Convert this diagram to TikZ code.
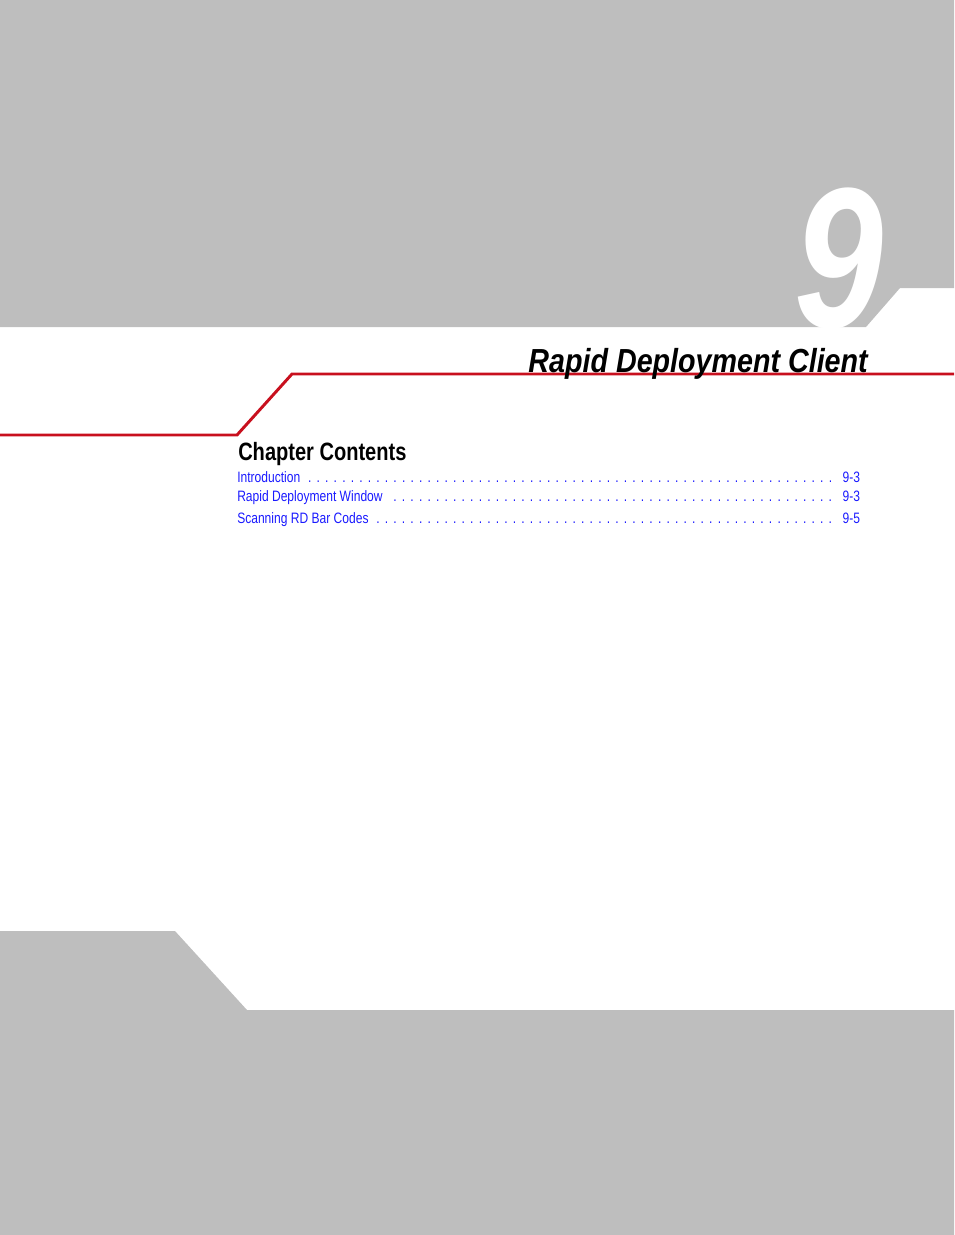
\documentclass[tikz,border=0pt]{standalone}
\usepackage{fontspec}
\setmainfont{Liberation Sans}
\newfontfamily\nf[FakeStretch=0.8]{Liberation Sans}
\newfontfamily\tf[FakeStretch=0.86]{Liberation Sans}
\definecolor{pg}{HTML}{BEBEBE}
\definecolor{rl}{HTML}{C8101E}
\definecolor{tb}{HTML}{1A1AFF}
\newcommand{\tocdots}{\leaders\hbox to 6.4pt{\hss.\hss}\hfill}
\tikzset{tocline/.style={anchor=base west,inner sep=0pt,text=tb,font=\nf\fontsize{11.3pt}{13pt}\selectfont}}
\begin{document}
\begin{tikzpicture}[x=0.75pt,y=-0.75pt]
\useasboundingbox (0,0) rectangle (954,1235);
\fill[pg] (0,0)--(954,0)--(954,288)--(900,288)--(866,327)--(0,327)--cycle;
\fill[pg] (0,931)--(175,931)--(247,1010)--(954,1010)--(954,1235)--(0,1235)--cycle;
\node[anchor=base east,inner sep=0pt,text=white,font=\nf\bfseries\itshape\fontsize{150pt}{150pt}\selectfont] (nine) at (884,327) {9};
\draw[rl,line width=2.2pt] (0,435)--(237,435)--(292,374)--(954,374);
\node[anchor=base east,inner sep=0pt,font=\tf\bfseries\itshape\fontsize{25pt}{27pt}\selectfont] (title) at (868,372) {Rapid Deployment Client};
\node[anchor=base west,inner sep=0pt,font=\nf\bfseries\fontsize{18.8pt}{21pt}\selectfont] (cc) at (238,460) {Chapter Contents};
\node[tocline] (t1) at (237,482) {\makebox[467pt][l]{Introduction\ \tocdots\ 9-3}};
\node[tocline] (t2) at (237,501) {\makebox[467pt][l]{Rapid Deployment Window\tocdots 9-3}};
\node[tocline] (t3) at (237,523) {\makebox[467pt][l]{Scanning RD Bar Codes\tocdots 9-5}};
\end{tikzpicture}
\end{document}
